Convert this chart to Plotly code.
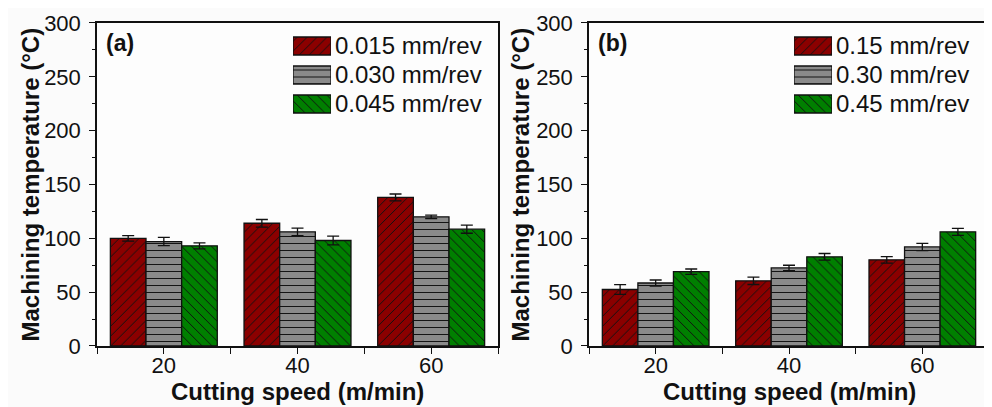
import plotly.graph_objects as go

speeds = [20, 40, 60]

feeds_a = ["0.015 mm/rev", "0.030 mm/rev", "0.045 mm/rev"]
temp_a_1 = [100.0, 114.0, 138.0]
temp_a_2 = [97.0, 106.0, 120.0]
temp_a_3 = [93.0, 98.0, 108.5]
err_a_1 = [2.5, 3.5, 3.2]
err_a_2 = [3.8, 3.4, 1.6]
err_a_3 = [2.7, 4.0, 3.8]

feeds_b = ["0.15 mm/rev", "0.30 mm/rev", "0.45 mm/rev"]
temp_b_1 = [52.5, 60.5, 80.0]
temp_b_2 = [58.5, 72.5, 92.0]
temp_b_3 = [69.0, 82.8, 106.0]
err_b_1 = [4.5, 3.4, 3.1]
err_b_2 = [2.8, 2.5, 3.4]
err_b_3 = [2.5, 3.1, 3.3]

y_ticks = [0, 50, 100, 150, 200, 250, 300]
y_minor = [25, 75, 125, 175, 225, 275]
x_ticks = [10, 20, 30, 40, 50, 60, 70]
x_ticktext = ["", "20", "", "40", "", "60", ""]

x_title = "Cutting speed (m/min)"
y_title = "Machining temperature (°C)"
panel_labels = ["(a)", "(b)"]

colors = ["#8b0000", "#8a8a8a", "#007f00"]
shapes_pat = ["/", "-", "\\"]

FONT = "Liberation Sans, Arial, sans-serif"
INK = "#111111"

# the page adds an 8px body margin; figure sized to fit the 992x407 window
W, H = 984, 399

fig = go.Figure()


def bar_marker(i):
    return dict(color=colors[i], line=dict(color=INK, width=1.3),
                pattern=dict(shape=shapes_pat[i], fgcolor=INK, fgopacity=1,
                             bgcolor=colors[i], size=7, solidity=0.14))


panels = [
    ("x", "y", feeds_a, [temp_a_1, temp_a_2, temp_a_3], [err_a_1, err_a_2, err_a_3]),
    ("x2", "y2", feeds_b, [temp_b_1, temp_b_2, temp_b_3], [err_b_1, err_b_2, err_b_3]),
]

for xa, ya, names, vals, errs in panels:
    for i in range(3):
        fig.add_trace(go.Bar(
            x=speeds, y=vals[i], name=names[i],
            xaxis=xa, yaxis=ya, showlegend=False,
            marker=bar_marker(i),
            error_y=dict(type="data", array=errs[i], color=INK,
                         thickness=1.3, width=6),
        ))

# legend keys: one horizontal bar per series on a small inset axis,
# series names shown as the inset axis' tick labels
legend_axes = [("x5", "y5", feeds_a), ("x6", "y6", feeds_b)]
for xa, ya, names in legend_axes:
    for i in range(3):
        fig.add_trace(go.Bar(
            y=[names[i]], x=[1], orientation="h", name=names[i],
            xaxis=xa, yaxis=ya, showlegend=False, hoverinfo="skip", width=0.62,
            offsetgroup="key_" + xa,
            marker=bar_marker(i),
        ))


def xaxis_cfg(domain, anchor):
    return dict(domain=domain, anchor=anchor, range=[10, 70], automargin=False,
                tickmode="array", tickvals=x_ticks, ticktext=x_ticktext,
                ticks="outside", ticklen=6, tickwidth=1.3, tickcolor=INK,
                ticklabelstandoff=-7,
                showline=True, linecolor=INK, linewidth=1.5, mirror=True,
                showgrid=False, zeroline=False,
                tickfont=dict(family=FONT, size=22, color=INK))


def yaxis_cfg(domain, anchor):
    return dict(domain=domain, anchor=anchor, range=[0, 300], automargin=False,
                tickmode="array", tickvals=y_ticks,
                ticks="outside", ticklen=6, tickwidth=1.3, tickcolor=INK,
                ticklabelstandoff=4,
                minor=dict(tickmode="array", tickvals=y_minor,
                           ticks="outside", ticklen=3, tickwidth=1.3, tickcolor=INK),
                showline=True, linecolor=INK, linewidth=1.5, mirror=True,
                showgrid=False, zeroline=False,
                tickfont=dict(family=FONT, size=22, color=INK))


def xtop_cfg(over, anchor):
    return dict(overlaying=over, anchor=anchor, side="top", range=[10, 70],
                automargin=False,
                tickmode="array", tickvals=x_ticks, showticklabels=False,
                ticks="inside", ticklen=6, tickwidth=1.3, tickcolor=INK,
                showline=False, showgrid=False, zeroline=False)


def yright_cfg(over, anchor):
    return dict(overlaying=over, anchor=anchor, side="right", range=[0, 300],
                automargin=False,
                tickmode="array", tickvals=y_ticks, showticklabels=False,
                ticks="inside", ticklen=6, tickwidth=1.3, tickcolor=INK,
                minor=dict(tickmode="array", tickvals=y_minor,
                           ticks="inside", ticklen=3, tickwidth=1.3, tickcolor=INK),
                showline=False, showgrid=False, zeroline=False)


def leg_x(domain, anchor):
    return dict(domain=domain, anchor=anchor, range=[0, 1], visible=False,
                fixedrange=True, automargin=False)


def leg_y(domain, anchor, names):
    return dict(domain=domain, anchor=anchor, range=[2.5, -0.5], side="right",
                type="category", categoryorder="array", categoryarray=names,
                tickmode="array", tickvals=names, ticktext=names,
                showline=False, showgrid=False, zeroline=False, ticks="",
                ticklabelstandoff=3, fixedrange=True, automargin=False,
                tickfont=dict(family=FONT, size=24, color=INK))


dom_y = [0.15288, 0.96241]
leg_dom_y = [0.72306, 0.9411]

annotations = []
for xd, yd, label, ytx in [("x domain", "y domain", panel_labels[0], 0.02236),
                           ("x2 domain", "y2 domain", panel_labels[1], 0.52033)]:
    annotations.append(dict(text="<b>" + label + "</b>", xref=xd, yref=yd,
                            x=0.018, y=0.938, xanchor="left", yanchor="middle",
                            showarrow=False, font=dict(family=FONT, size=23, color=INK)))
    annotations.append(dict(text="<b>" + x_title + "</b>", xref=xd, yref="paper",
                            x=0.5, y=0.0401, xanchor="center", yanchor="middle",
                            showarrow=False, font=dict(family=FONT, size=24, color=INK)))
    annotations.append(dict(text="<b>" + y_title + "</b>", xref="paper", yref=yd,
                            x=ytx, y=0.5, xanchor="center", yanchor="middle",
                            textangle=-90, showarrow=False,
                            font=dict(family=FONT, size=24, color=INK)))

fig.update_layout(
    width=W, height=H,
    margin=dict(l=0, r=0, t=0, b=0, autoexpand=False),
    paper_bgcolor="#fbfbfb", plot_bgcolor="#fdfdfd",
    barmode="group", bargap=0.2, bargroupgap=0.0,
    font=dict(family=FONT, color=INK),
    showlegend=False,
    xaxis=xaxis_cfg([0.09045, 0.49797], "y"),
    yaxis=yaxis_cfg(dom_y, "x"),
    xaxis2=xaxis_cfg([0.59045, 0.99695], "y2"),
    yaxis2=yaxis_cfg(dom_y, "x2"),
    xaxis3=xtop_cfg("x", "y"),
    yaxis3=yright_cfg("y", "x"),
    xaxis4=xtop_cfg("x2", "y2"),
    yaxis4=yright_cfg("y2", "x2"),
    xaxis5=leg_x([0.28963, 0.32825], "y5"),
    yaxis5=leg_y(leg_dom_y, "x5", feeds_a),
    xaxis6=leg_x([0.79878, 0.83740], "y6"),
    yaxis6=leg_y(leg_dom_y, "x6", feeds_b),
    annotations=annotations,
)

fig.write_html("out.html")
